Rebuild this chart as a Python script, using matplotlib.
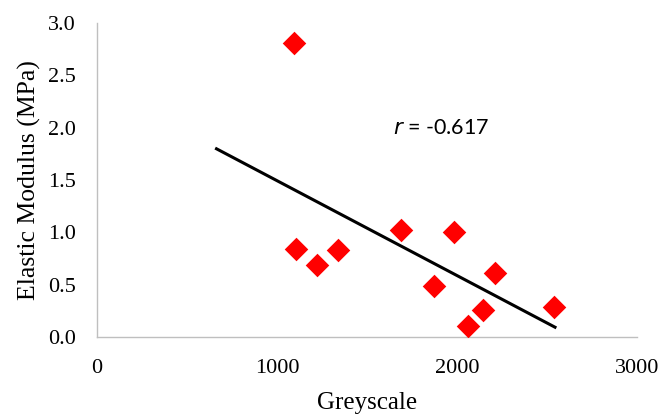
import numpy as np
import matplotlib
matplotlib.use("Agg")
import matplotlib.pyplot as plt

greyscale = [1094, 1107, 1220, 1339, 1687, 1983, 1874, 2213, 2144, 2061, 2539]
modulus = [2.81, 0.84, 0.69, 0.83, 1.02, 1.00, 0.49, 0.61, 0.26, 0.105, 0.285]
r_label = "-0.617"
trend_backward = 430
trend_forward = 5
x_ticks = [0, 1000, 2000, 3000]
y_ticks = [0.0, 0.5, 1.0, 1.5, 2.0, 2.5, 3.0]

fig = plt.figure(figsize=(6.66, 4.18), dpi=100)
ax = fig.add_axes([0.1456, 0.1938, 0.811, 0.751])

ax.scatter(greyscale, modulus, marker="D", s=12**2, color="#FF0000", zorder=3, linewidths=0)

slope, intercept = np.polyfit(greyscale, modulus, 1)
tx = np.array([min(greyscale) - trend_backward, max(greyscale) + trend_forward])
ax.plot(tx, slope * tx + intercept, color="black", lw=2.2, zorder=2)

ax.set_xlim(0, 3000)
ax.set_ylim(0, 3.0)
ax.set_xticks(x_ticks)
ax.set_yticks(y_ticks)
serif = ["Liberation Serif", "DejaVu Serif"]
ax.set_xticklabels([str(t) for t in x_ticks], family=serif, fontsize=16)
ax.set_yticklabels([f"{t:.1f}" for t in y_ticks], family=serif, fontsize=16)
ax.tick_params(axis="x", length=0, pad=16)
ax.tick_params(axis="y", length=0, pad=15)
for s in ["top", "right"]:
    ax.spines[s].set_visible(False)
for s in ["left", "bottom"]:
    ax.spines[s].set_color("#BFBFBF")
    ax.spines[s].set_linewidth(1.0)

ax.set_xlabel("Greyscale", family=serif, fontsize=18, labelpad=10)
ax.set_ylabel("Elastic Modulus (MPa)", family=serif, fontsize=18.5, labelpad=5)

ax.text(1911, 2.0, f"$\\mathit{{r}}$ = {r_label}", family=["Lato", "DejaVu Sans"],
        fontsize=15.5, ha="center", va="center")

fig.savefig("out.png", dpi=100)
